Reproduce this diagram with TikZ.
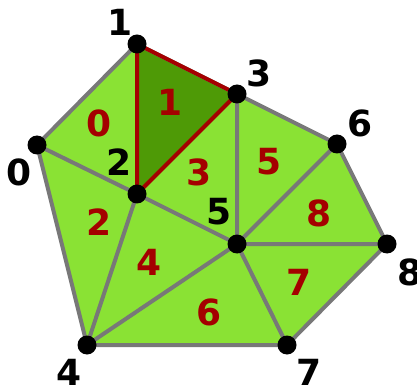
\documentclass[tikz,border=0pt]{standalone}
\usepackage{fontspec}
\setmainfont{DejaVu Sans}
\definecolor{leaf}{HTML}{8AE234}
\definecolor{darkleaf}{HTML}{4E9A06}
\definecolor{darkred}{HTML}{A40000}
\definecolor{edgegray}{HTML}{787878}
\begin{document}
\begin{tikzpicture}[x=1pt,y=-1pt,
  dot/.style={circle,fill=black,inner sep=0pt,minimum size=19pt},
  vlab/.style={font=\fontsize{36}{36}\selectfont\bfseries},
  tlab/.style={font=\fontsize{36}{36}\selectfont\bfseries, text=darkred},
  edge/.style={edgegray, line width=4pt, line join=round}]
\useasboundingbox (0,0) rectangle (417,387);
\coordinate (p0) at (37,145);
\coordinate (p1) at (137,44);
\coordinate (p2) at (137,194);
\coordinate (p3) at (237,94);
\coordinate (p4) at (87,345);
\coordinate (p5) at (237,244);
\coordinate (p6) at (337,144);
\coordinate (p7) at (287,345);
\coordinate (p8) at (387,244);
% mesh fill
\fill[leaf] (p0) -- (p1) -- (p3) -- (p6) -- (p8) -- (p7) -- (p4) -- cycle;
\fill[darkleaf] (p1) -- (p2) -- (p3) -- cycle; %cell 1
% edges
\draw[edge] (p0) -- (p1) -- (p3) -- (p6) -- (p8) -- (p7) -- (p4) -- cycle;
\draw[edge] (p0) -- (p2) -- (p4);
\draw[edge] (p2) -- (p5) -- (p3);
\draw[edge] (p4) -- (p5) -- (p6);
\draw[edge] (p7) -- (p5) -- (p8);
\draw[darkred, line width=4pt, line join=round] (p1) -- (p2) -- (p3) -- cycle;
% vertices
\foreach \i in {0,...,8} {
  \node[dot] (v\i) at (p\i) {};
}
\node[vlab] (l0) at (19,172) {0};
\node[vlab] (l1) at (120,22) {1};
\node[vlab] (l2) at (119,162) {2};
\node[vlab] (l3) at (259,73) {3};
\node[vlab] (l4) at (69,372) {4};
\node[vlab] (l5) at (219,212) {5};
\node[vlab] (l6) at (360,123) {6};
\node[vlab] (l7) at (309,372) {7};
\node[vlab] (l8) at (410,272) {8};
% cell numbers
\node[tlab] (c0) at (99,123) {0};
\node[tlab] (c1) at (170,102) {1};
\node[tlab] (c2) at (99,222) {2};
\node[tlab] (c3) at (199,172) {3};
\node[tlab] (c4) at (149,262) {4};
\node[tlab] (c5) at (269,162) {5};
\node[tlab] (c6) at (209,312) {6};
\node[tlab] (c7) at (299,282) {7};
\node[tlab] (c8) at (319,213) {8};
\end{tikzpicture}
\end{document}
